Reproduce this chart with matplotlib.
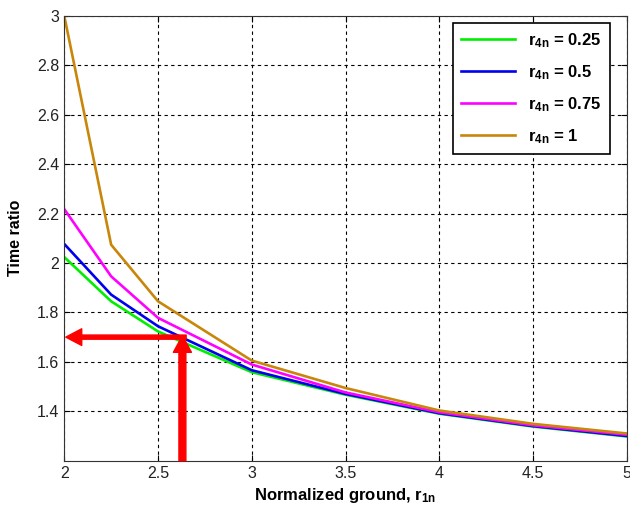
import matplotlib
matplotlib.use("Agg")
import matplotlib.pyplot as plt

plt.rcParams['font.family'] = ['Liberation Sans', 'DejaVu Sans']
plt.rcParams['mathtext.fontset'] = 'custom'
plt.rcParams['mathtext.rm'] = 'Liberation Sans'
plt.rcParams['mathtext.bf'] = 'Liberation Sans:bold'

# values
r1n = [2, 2.25, 2.5, 3, 3.5, 4, 4.5, 5]
ratio_025 = [2.024, 1.845, 1.723, 1.558, 1.467, 1.390, 1.338, 1.298]
ratio_05 = [2.077, 1.872, 1.744, 1.566, 1.470, 1.392, 1.340, 1.300]
ratio_075 = [2.218, 1.946, 1.778, 1.589, 1.476, 1.396, 1.343, 1.305]
ratio_1 = [3.0, 2.074, 1.845, 1.605, 1.494, 1.403, 1.349, 1.310]
labels = ["0.25", "0.5", "0.75", "1"]
colors = ["#00ee00", "#0000ee", "#ff00ff", "#c8860a"]

# reading marker
x_read = 2.63
y_read = 1.70

fig = plt.figure(figsize=(6.3, 5.13), dpi=100)
ax = fig.add_axes([0.102, 0.102, 0.893, 0.867])

series = [ratio_025, ratio_05, ratio_075, ratio_1]
for vals, lab, col in zip(series, labels, colors):
    ax.plot(r1n, vals, color=col, lw=1.9, label=r"$\mathbf{r_{4n}}$ = " + lab)

ax.set_xlim(2, 5)
ax.set_ylim(1.2, 3)
ax.set_xticks([2, 2.5, 3, 3.5, 4, 4.5, 5])
ax.set_xticklabels(["2", "2.5", "3", "3.5", "4", "4.5", "5"])
ax.set_yticks([1.4, 1.6, 1.8, 2, 2.2, 2.4, 2.6, 2.8, 3])
ax.set_yticklabels(["1.4", "1.6", "1.8", "2", "2.2", "2.4", "2.6", "2.8", "3"])
ax.tick_params(direction="in", top=True, right=True, labelsize=11.5, length=4,
               labelcolor="#222222")
ax.grid(True, color="black", linestyle=(0, (3, 3)), lw=0.8)

# red arrows (solid heads)
ax.annotate("", xy=(2.008, y_read), xytext=(x_read + 0.02, y_read),
            arrowprops=dict(width=3.0, headwidth=12, headlength=11.5,
                            color="red", shrink=0))
ax.annotate("", xy=(x_read, y_read + 0.006), xytext=(x_read, 1.2),
            arrowprops=dict(width=5.0, headwidth=13, headlength=12,
                            color="red", shrink=0))

ax.set_xlabel(r"Normalized ground, $\mathbf{r_{1n}}$", fontsize=12, fontweight="bold")
ax.set_ylabel("Time ratio", fontsize=11.5, fontweight="bold", labelpad=10)

leg = ax.legend(loc="upper right", bbox_to_anchor=(0.970, 0.985),
                prop={'weight': 'bold', 'size': 12}, fancybox=False,
                edgecolor="black", framealpha=1, handlelength=3.2,
                labelspacing=0.8, borderpad=0.5, borderaxespad=0)
leg.get_frame().set_linewidth(1.2)

for s in ax.spines.values():
    s.set_color("#333333")

fig.savefig("out.png", dpi=100)
